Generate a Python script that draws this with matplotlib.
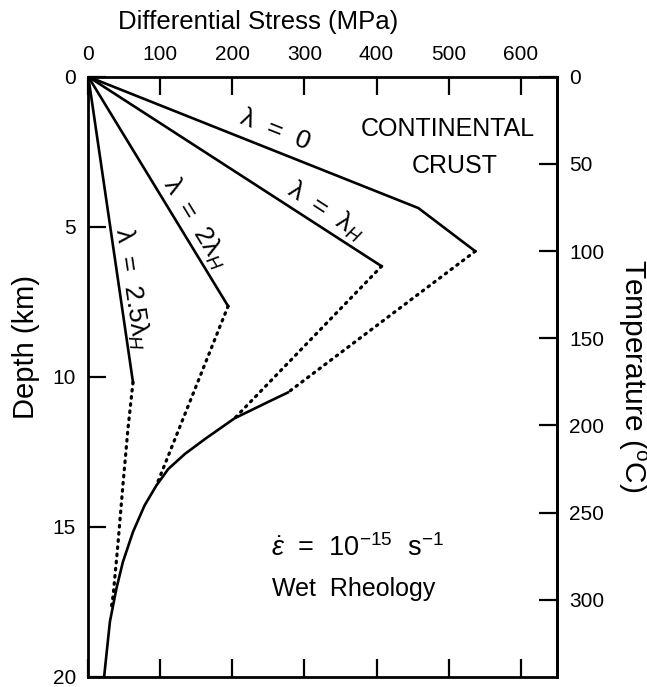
import matplotlib
matplotlib.use("Agg")
import matplotlib.pyplot as plt

plt.rcParams['font.family'] = ['Liberation Sans', 'DejaVu Sans']
plt.rcParams['mathtext.fontset'] = 'custom'
plt.rcParams['mathtext.rm'] = 'Liberation Sans'
plt.rcParams['mathtext.it'] = 'Liberation Sans:italic'

# lambda = 0 : solid brittle part, dotted part
l0_stress = [0, 458, 537]
l0_depth = [0, 4.38, 5.82]
l0_dot_stress = [537, 277]
l0_dot_depth = [5.82, 10.53]

# lambda = lambda_H
lh_stress = [0, 407]
lh_depth = [0, 6.32]
lh_dot_stress = [407, 203]
lh_dot_depth = [6.32, 11.39]

# lambda = 2 lambda_H
l2_stress = [0, 194]
l2_depth = [0, 7.65]
l2_dot_stress = [194, 94.5]
l2_dot_depth = [7.65, 13.63]

# lambda = 2.5 lambda_H
l25_stress = [0, 62]
l25_depth = [0, 10.19]
l25_dot_stress = [62, 55, 48, 41, 34.5, 32]
l25_dot_depth = [10.19, 11.75, 13.63, 15.62, 17.29, 17.7]

# ductile (creep) curve
duct_stress = [277, 250, 203, 162, 134, 111, 94.5, 78, 62, 48, 39, 30, 22]
duct_depth = [10.53, 10.84, 11.39, 12.08, 12.58, 13.08, 13.63, 14.3, 15.18,
              16.18, 17.07, 18.17, 20.0]

x_ticks = [0, 100, 200, 300, 400, 500, 600]
depth_ticks = [0, 5, 10, 15, 20]
temp_ticks = [0, 50, 100, 150, 200, 250, 300]
grad = 17.2  # degC per km

W, H = 647, 687
fig = plt.figure(figsize=(W / 100, H / 100), dpi=100)
ax = fig.add_axes([88.3 / W, 1 - 676.5 / H, 468.4 / W, 599.8 / H])

lw = 1.9
k = 'black'
ax.plot(l0_stress, l0_depth, color=k, lw=lw)
ax.plot(lh_stress, lh_depth, color=k, lw=lw)
ax.plot(l2_stress, l2_depth, color=k, lw=lw)
ax.plot(l25_stress, l25_depth, color=k, lw=lw)
ax.plot(duct_stress, duct_depth, color=k, lw=lw)
for xs, ys in [(l0_dot_stress, l0_dot_depth), (lh_dot_stress, lh_dot_depth),
               (l2_dot_stress, l2_dot_depth), (l25_dot_stress, l25_dot_depth)]:
    ax.plot(xs, ys, color=k, lw=2.3, linestyle=(0, (0.5, 1.75)), dash_capstyle='round')

ax.set_xlim(0, 650)
ax.set_ylim(20, 0)
ax.xaxis.set_ticks_position('both')
ax.set_xticks(x_ticks)
ax.set_yticks(depth_ticks)
ax.tick_params(axis='x', which='both', direction='in', length=13, width=1.6,
               labeltop=True, labelbottom=False, pad=9, labelsize=15)
ax.tick_params(axis='y', direction='in', length=13, width=1.6, labelsize=15, pad=9,
               right=False)
for s in ax.spines.values():
    s.set_linewidth(2.0)

ax2 = ax.secondary_yaxis('right', functions=(lambda d: d * grad, lambda t: t / grad))
ax2.set_yticks(temp_ticks)
ax2.tick_params(direction='in', length=13, width=1.6, labelsize=15, pad=9)
ax2.spines['right'].set_linewidth(2.0)

# axis titles
fig.text(258 / W, 1 - 22 / H, 'Differential Stress (MPa)', fontsize=18.5,
         ha='center', va='center')
fig.text(26 / W, 1 - 347 / H, 'Depth (km)', fontsize=21, rotation=90,
         ha='center', va='center')
fig.text(632 / W, 1 - 376 / H, 'Temperature ($^{\\mathrm{o}}$C)', fontsize=21.5,
         rotation=270, ha='center', va='center')

fs = 19
ax.text(260, 1.78, 'λ  =  0', rotation=-21.7, fontsize=fs, ha='center', va='center')
ax.text(330, 4.5, 'λ  =  λ$_H$', rotation=-33, fontsize=fs, ha='center', va='center')
ax.text(148, 4.87, 'λ  =  2λ$_H$', rotation=-58.6, fontsize=fs, ha='center', va='center')
ax.text(60, 7.07, 'λ  =  2.5λ$_H$', rotation=-81.6, fontsize=fs, ha='center', va='center')

ax.text(499, 1.74, 'CONTINENTAL', fontsize=18, ha='center', va='center')
ax.text(509, 2.99, 'CRUST', fontsize=18, ha='center', va='center')
ax.text(374, 15.73, r'$\dot{\varepsilon}$  =  10$^{-15}$  s$^{-1}$', fontsize=19.5,
        ha='center', va='center')
ax.text(368, 17.07, 'Wet  Rheology', fontsize=18, ha='center', va='center')

fig.savefig('out.png', dpi=100)
